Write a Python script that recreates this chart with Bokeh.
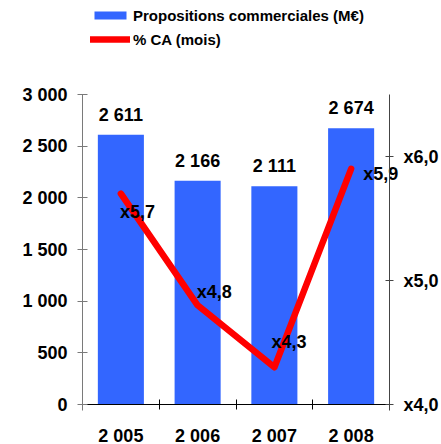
from bokeh.plotting import figure
from bokeh.models import (ColumnDataSource, Range1d, LinearAxis, FixedTicker,
                          Legend, LegendItem)
from bokeh.core.properties import value
from bokeh.embed import file_html
from bokeh.resources import INLINE

# Data
years = ["2 005", "2 006", "2 007", "2 008"]
propositions = [2611, 2166, 2111, 2674]          # M€
ca_mois = [5.7, 4.8, 4.3, 5.9]                    # % CA (mois)
prop_labels = ["2 611", "2 166", "2 111", "2 674"]
ca_labels = ["x5,7", "x4,8", "x4,3", "x5,9"]
left_ticks = [0, 500, 1000, 1500, 2000, 2500, 3000]
left_tick_labels = ["0", "500", "1 000", "1 500", "2 000", "2 500", "3 000"]
right_ticks = [4, 5, 6]
right_tick_labels = ["x4,0", "x5,0", "x6,0"]

FONT = "Liberation Sans"
BLUE = "#3366ff"
RED = "#ff0000"

# Canvas and plotting-area geometry (pixels). The frame spans the whole
# canvas so that labels and the legend are never clipped; the axes are
# pinned at the edges of the plotting area with fixed_location.
W, H = 441, 444
AREA_L, AREA_R, AREA_T, AREA_B = 82, 389, 94, 404
AXIS_OVERHANG = 6  # vertical axis lines run a little below the baseline

def span(lo, hi, px_lo, px_hi, total, flip=False):
    """Range whose [lo, hi] lands on pixels [px_lo, px_hi] of a total-px frame."""
    k = (hi - lo) / (px_hi - px_lo)
    if flip:  # screen y grows downward
        return Range1d(lo - (total - px_hi) * k, hi + px_lo * k)
    return Range1d(lo - px_lo * k, hi + (total - px_hi) * k)

n = len(years)
xs = [i + 0.5 for i in range(n)]

y_left = span(0, 3000, AREA_T, AREA_B, H, flip=True)
y_right = span(4.0, 6.5, AREA_T, AREA_B, H, flip=True)

p = figure(width=W, height=H, output_backend="svg", toolbar_location=None,
           x_range=span(0, n, AREA_L, AREA_R, W), y_range=y_left,
           min_border=0, outline_line_color=None,
           x_axis_type=None, y_axis_type=None)
p.xgrid.visible = False
p.ygrid.visible = False
p.extra_y_ranges = {"ca": y_right}

bars_src = ColumnDataSource(dict(x=xs, top=propositions, label=prop_labels))
bars = p.vbar(x="x", top="top", width=0.6, source=bars_src,
              fill_color=BLUE, line_color=None)
p.text(x="x", y="top", text="label", source=bars_src, y_offset=-20,
       text_align="center", text_baseline="middle", text_font=value(FONT),
       text_font_style="bold", text_font_size="18px", text_color="black")

line_src = ColumnDataSource(dict(x=xs, y=ca_mois, label=ca_labels,
                                 dx=[-1, -1, -3, 12], dy=[18, -13, -25, 5]))
line = p.line(x="x", y="y", source=line_src, y_range_name="ca",
              line_color=RED, line_width=6.5, line_join="round", line_cap="round")
p.text(x="x", y="y", text="label", source=line_src, y_range_name="ca",
       x_offset="dx", y_offset="dy", text_align="left", text_baseline="middle",
       text_font=value(FONT), text_font_style="bold", text_font_size="18px",
       text_color="black")

def style_labels(ax):
    ax.major_label_text_font = FONT
    ax.major_label_text_font_style = "bold"
    ax.major_label_text_font_size = "18px"
    ax.major_label_text_color = "black"
    ax.axis_label = None

# Bottom axis: category names at bar centres, ticks between categories
xa = LinearAxis(fixed_location=0, bounds=(0, n),
                ticker=FixedTicker(ticks=xs, minor_ticks=list(range(n + 1))))
xa.major_label_overrides = {x: y for x, y in zip(xs, years)}
xa.major_tick_line_color = None
xa.major_tick_out = 0
xa.major_tick_in = 0
xa.minor_tick_out = 5
xa.minor_tick_in = 5
xa.minor_tick_line_color = "black"
xa.axis_line_color = "black"
xa.major_label_standoff = 16
style_labels(xa)
p.add_layout(xa, "below")

# Left axis: propositions (M€)
k_left = 3000 / (AREA_B - AREA_T)
ya = LinearAxis(fixed_location=0, bounds=(-AXIS_OVERHANG * k_left, 3000),
                ticker=FixedTicker(ticks=left_ticks, minor_ticks=[]))
ya.major_label_overrides = {t: s for t, s in zip(left_ticks, left_tick_labels)}
ya.axis_line_color = "#7a7a7a"
ya.major_tick_line_color = "#7a7a7a"
ya.major_tick_out = 5
ya.major_tick_in = 5
ya.minor_tick_line_color = None
ya.major_label_standoff = 10
style_labels(ya)
p.add_layout(ya, "left")

# Right axis: ratio in months of turnover
k_right = 2.5 / (AREA_B - AREA_T)
ra = LinearAxis(y_range_name="ca", fixed_location=n,
                bounds=(4.0 - AXIS_OVERHANG * k_right, 6.5),
                ticker=FixedTicker(ticks=right_ticks, minor_ticks=[]))
ra.major_label_overrides = {t: s for t, s in zip(right_ticks, right_tick_labels)}
ra.axis_line_color = "#444444"
ra.major_tick_line_color = "#444444"
ra.major_tick_out = 4
ra.major_tick_in = 4
ra.minor_tick_line_color = None
ra.major_label_standoff = 10
style_labels(ra)
p.add_layout(ra, "right")

legend = Legend(items=[LegendItem(label="Propositions commerciales (M€)", renderers=[bars]),
                       LegendItem(label="% CA (mois)", renderers=[line])],
                location=(90, 395), orientation="vertical",
                glyph_width=40, glyph_height=10, label_standoff=3,
                padding=0, margin=0, spacing=4, label_height=20,
                border_line_color=None, background_fill_alpha=0,
                label_text_font=FONT, label_text_font_style="bold",
                label_text_font_size="15px", label_text_color="black")
p.add_layout(legend)

open("out.html", "w").write(file_html(p, INLINE))
